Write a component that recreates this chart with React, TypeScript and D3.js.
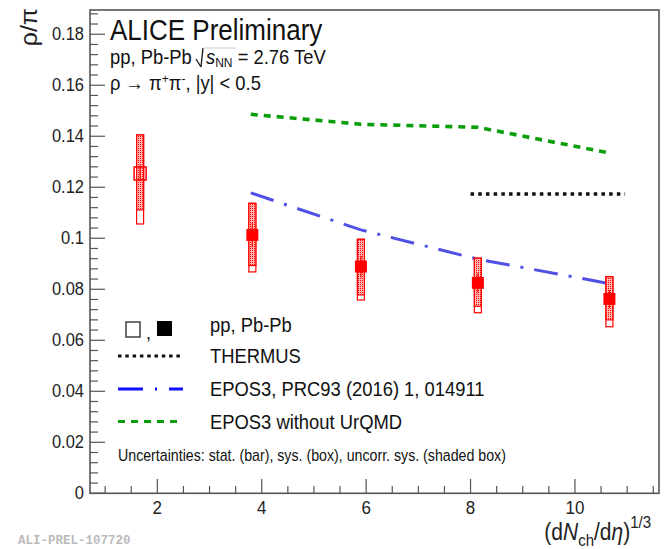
import React from "react";
import * as d3 from "d3";

const W = 664;
const H = 549;

// pp (open) data
const ppX = [1.67];
const ppY = [0.1256];
const ppStat = [0.003];
const ppSysHi = [0.1405];
const ppSysLo = [0.1056];
const ppShadeLo = [0.1111];

// Pb-Pb (filled) data
const pbX = [3.82, 5.9, 8.14, 10.66];
const pbY = [0.1013, 0.0889, 0.0825, 0.0762];
const pbStat = [0.0048, 0.0042, 0.0038, 0.0035];
const pbSysHi = [0.1137, 0.0996, 0.0922, 0.0849];
const pbSysLo = [0.0868, 0.0758, 0.0708, 0.0653];
const pbShadeLo = [0.0893, 0.0778, 0.0733, 0.068];

// models
const modelX = [3.79, 5.9, 8.14, 10.69];
const eposY = [0.1178, 0.1033, 0.0918, 0.0821];
const eposNoUrqmdY = [0.1486, 0.1447, 0.1435, 0.1333];
const thermusX = [8.0, 10.96];
const thermusY = [0.1174, 0.1174];

const xTicks = [2, 4, 6, 8, 10];
const xTickLabels = ["2", "4", "6", "8", "10"];
const yTicks = [0, 0.02, 0.04, 0.06, 0.08, 0.1, 0.12, 0.14, 0.16, 0.18];
const yTickLabels = ["0", "0.02", "0.04", "0.06", "0.08", "0.1", "0.12", "0.14", "0.16", "0.18"];

const legendLabels = ["pp, Pb-Pb", "THERMUS", "EPOS3, PRC93 (2016) 1, 014911", "EPOS3 without UrQMD"];

const FONT = "'Liberation Sans', Arial, Helvetica, sans-serif";
const RED = "#ff0000";
const BLUE_PLOT = "#5050e6";
const BLUE_LEG = "#1010ff";
const GREEN = "#0a9e0a";
const AX = "#555";
const SY = 1.12;

export default function App() {
  const x = d3.scaleLinear().domain([0.71, 11.61]).range([90, 659]);
  const y = d3.scaleLinear().domain([0, 0.1895]).range([493.3, 10]);

  const line = d3.line<[number, number]>().x((d) => x(d[0])).y((d) => y(d[1]));
  const eposPath = line(modelX.map((v, i) => [v, eposY[i]]) as [number, number][]) || "";
  const greenPath = line(modelX.map((v, i) => [v, eposNoUrqmdY[i]]) as [number, number][]) || "";
  const thermPath = line(thermusX.map((v, i) => [v, thermusY[i]]) as [number, number][]) || "";

  const xMinor = d3.range(1, 11.51, 0.5).filter((v) => Math.abs(v - Math.round(v / 2) * 2) > 1e-6);
  const yMinor = d3.range(0.004, 0.1895, 0.004).filter((v) => Math.abs(v / 0.02 - Math.round(v / 0.02)) > 1e-6);

  const boxW = 7;
  const mk = 12;

  const drawPoint = (
    xv: number, yv: number, st: number, hi: number, lo: number, shLo: number, open: boolean, key: string
  ) => {
    const cx = x(xv);
    return (
      <g key={key}>
        <rect x={cx - boxW / 2} y={y(hi)} width={boxW} height={y(lo) - y(hi)} fill="#fff" stroke={RED} strokeWidth={1.2} />
        <rect x={cx - boxW / 2} y={y(hi)} width={boxW} height={y(shLo) - y(hi)} fill="url(#hatch)" stroke={RED} strokeWidth={1.2} />
        <line x1={cx} x2={cx} y1={y(yv + st)} y2={y(yv - st)} stroke={RED} strokeWidth={1.2} />
        {open ? (
          <rect x={cx - mk / 2} y={y(yv) - mk / 2} width={mk} height={mk + 1} fill="none" stroke={RED} strokeWidth={1.5} />
        ) : (
          <rect x={cx - mk / 2} y={y(yv) - mk / 2} width={mk} height={mk} fill={RED} />
        )}
      </g>
    );
  };

  const legX1 = 118;
  const legX2 = 183;
  const legTextX = 210;
  const st = (tx: number, ty: number) => `translate(${tx},${ty}) scale(1,${SY})`;

  return (
    <svg width={W} height={H} style={{ position: "absolute", left: 0, top: 0, background: "#fff" }} fontFamily={FONT}>
      <defs>
        <pattern id="hatch" width="2" height="2" patternUnits="userSpaceOnUse">
          <rect width="2" height="2" fill="#ffb4b4" />
          <rect x="0" y="0" width="1" height="1" fill={RED} />
        </pattern>
      </defs>
      <rect width={W} height={H} fill="#fff" />

      {/* frame */}
      <rect x={90} y={10} width={569} height={483.3} fill="none" stroke={AX} strokeWidth={1.6} />

      {/* x ticks */}
      {xTicks.map((t, i) => (
        <g key={"xt" + i}>
          <line x1={x(t)} x2={x(t)} y1={493.3} y2={479} stroke={AX} strokeWidth={1.2} />
          <text transform={st(x(t), 513.5)} fontSize={17} textAnchor="middle" fill="#222">{xTickLabels[i]}</text>
        </g>
      ))}
      {xMinor.map((t, i) => (
        <line key={"xm" + i} x1={x(t)} x2={x(t)} y1={493.3} y2={486} stroke={AX} strokeWidth={1.2} />
      ))}

      {/* y ticks */}
      {yTicks.map((t, i) => (
        <g key={"yt" + i}>
          <line x1={90} x2={105} y1={y(t)} y2={y(t)} stroke={AX} strokeWidth={1.2} />
          <text transform={st(84, y(t) + 6)} fontSize={16.5} textAnchor="end" fill="#222">{yTickLabels[i]}</text>
        </g>
      ))}
      {yMinor.map((t, i) => (
        <line key={"ym" + i} x1={90} x2={98} y1={y(t)} y2={y(t)} stroke={AX} strokeWidth={1.2} />
      ))}

      {/* axis titles */}
      <text transform="translate(37,8) rotate(-90) scale(1.08,1)" fontSize={23} textAnchor="end" fill="#222">ρ/π</text>
      <text transform={st(651, 540)} fontSize={21} textAnchor="end" fill="#222">
        (d<tspan fontStyle="italic">N</tspan>
        <tspan fontSize={15} dy={5}>ch</tspan>
        <tspan dy={-5}>/d</tspan>
        <tspan fontStyle="italic">η</tspan>)
        <tspan fontSize={15} dy={-11}>1/3</tspan>
      </text>

      {/* model curves */}
      <path d={greenPath} fill="none" stroke={GREEN} strokeWidth={3.6} strokeDasharray="7 6" />
      <path d={eposPath} fill="none" stroke={BLUE_PLOT} strokeWidth={3} strokeDasharray="24 11 3 11" />
      <path d={thermPath} fill="none" stroke="#111" strokeWidth={3.5} strokeDasharray="3.5 4.2" />

      {/* data */}
      {ppX.map((v, i) => drawPoint(v, ppY[i], ppStat[i], ppSysHi[i], ppSysLo[i], ppShadeLo[i], true, "pp" + i))}
      {pbX.map((v, i) => drawPoint(v, pbY[i], pbStat[i], pbSysHi[i], pbSysLo[i], pbShadeLo[i], false, "pb" + i))}

      {/* header texts */}
      <text transform={st(110, 40)} fontSize={26} fill="#111">ALICE Preliminary</text>
      <g fontSize={18.4} fill="#111">
        <text transform={st(110, 64)}>pp, Pb-Pb</text>
        <path d="M196,59 L201,67 M201,67 L203,48" fill="none" stroke="#222" strokeWidth={1.4} />
        <path d="M203,48 L236,48" fill="none" stroke="#ccc" strokeWidth={1} />
        <text transform={st(206, 64)}>
          <tspan fontStyle="italic">s</tspan>
          <tspan fontSize={12} dy={3}>NN</tspan>
          <tspan dy={-3}> = 2.76 TeV</tspan>
        </text>
        <text transform={st(110, 89.5)}>
          ρ → π<tspan fontSize={12} dy={-6}>+</tspan>
          <tspan dy={6}>π</tspan>
          <tspan fontSize={12} dy={-6}>-</tspan>
          <tspan dy={6}>, |y| &lt; 0.5</tspan>
        </text>
      </g>

      {/* legend */}
      <rect x={126} y={322} width={14} height={15} fill="none" stroke="#333" strokeWidth={1.4} />
      <text x={146} y={339} fontSize={18} fill="#111">,</text>
      <rect x={157} y={321} width={15} height={15} fill="#000" />
      <text transform={st(legTextX, 332)} fontSize={18.4} fill="#111">{legendLabels[0]}</text>

      <line x1={legX1} x2={legX2} y1={356} y2={356} stroke="#111" strokeWidth={3} strokeDasharray="3.5 3.8" />
      <text transform={st(legTextX, 363)} fontSize={18.4} fill="#111">{legendLabels[1]}</text>

      <line x1={legX1} x2={legX2} y1={389} y2={389} stroke={BLUE_LEG} strokeWidth={3} strokeDasharray="25 12 2 12" />
      <text transform={st(legTextX, 396)} fontSize={18.4} fill="#111">{legendLabels[2]}</text>

      <line x1={legX1} x2={legX2} y1={421.5} y2={421.5} stroke={GREEN} strokeWidth={3} strokeDasharray="7 6" />
      <text transform={st(legTextX, 429)} fontSize={18.4} fill="#111">{legendLabels[3]}</text>

      <text transform={st(118, 461)} fontSize={14.2} fill="#111">
        Uncertainties: stat. (bar), sys. (box), uncorr. sys. (shaded box)
      </text>

      {/* watermark */}
      <text x={18} y={544} fontSize={12.5} fontFamily="'Liberation Mono', 'DejaVu Sans Mono', monospace" fontWeight="bold" fill="#bbb">
        ALI-PREL-107720
      </text>
    </svg>
  );
}
